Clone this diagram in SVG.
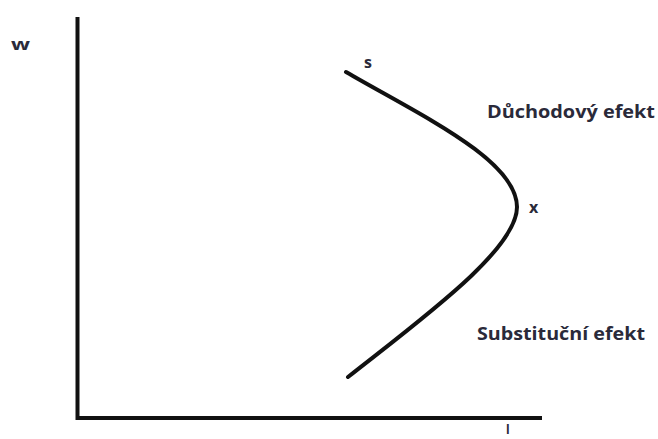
<svg xmlns="http://www.w3.org/2000/svg" width="658" height="439" viewBox="0 0 658 439">
<style>
.ax{stroke:#111;stroke-width:4;fill:none}
.cv{stroke:#111;stroke-width:4;fill:none;stroke-linecap:round}
.t{font-family:"Open Sans","Noto Sans",sans-serif;font-weight:bold;fill:#2a2a3a}
</style>
<rect width="658" height="439" fill="#fff"/>
<g id="connectors">
<path class="ax" d="M77.5,17 V418 H542"/>
<path id="curve" class="cv" d="M346,72 C420,115 517,160 517,207 C517,250 420,320 348,377"/>
</g>
<g id="labels">
<text id="w" class="t" x="11" y="50" font-size="16" textLength="19" lengthAdjust="spacingAndGlyphs">w</text>
<text id="s" class="t" x="364" y="68" font-size="16">s</text>
<text id="x" class="t" x="529" y="213" font-size="16">x</text>
<text id="l" class="t" x="506" y="434" font-size="12">l</text>
<text id="duchodovy" class="t" x="487" y="118" font-size="18" textLength="168" lengthAdjust="spacingAndGlyphs">Důchodový efekt</text>
<text id="substitucni" class="t" x="477" y="340" font-size="18" textLength="168" lengthAdjust="spacingAndGlyphs">Substituční efekt</text>
</g>
</svg>
